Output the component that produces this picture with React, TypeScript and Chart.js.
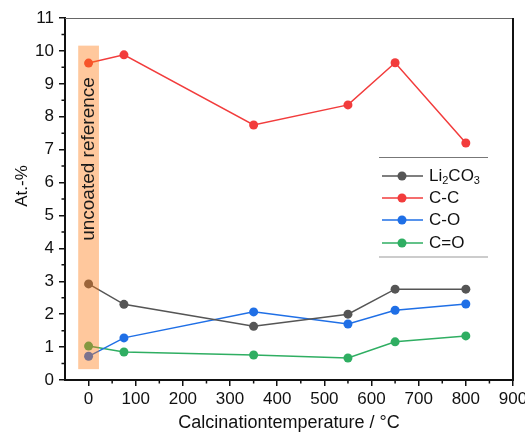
import React, { useEffect, useRef } from 'react';
import { Chart, registerables } from 'chart.js';

Chart.register(...registerables);

const temperatures = [0, 75, 350, 550, 650, 800];
const li2co3 = [2.92, 2.3, 1.63, 2.0, 2.76, 2.76];
const cc = [9.63, 9.88, 7.75, 8.36, 9.64, 7.2];
const co = [0.72, 1.28, 2.07, 1.7, 2.12, 2.31];
const cdo = [1.03, 0.85, 0.76, 0.67, 1.16, 1.34];
const seriesLabels = ['Li2CO3', 'C-C', 'C-O', 'C=O'];
const seriesColors = ['#555555', '#f23c3c', '#1f6fe6', '#2fae62'];
const xTicks = [0, 100, 200, 300, 400, 500, 600, 700, 800, 900];
const yTicks = [0, 1, 2, 3, 4, 5, 6, 7, 8, 9, 10, 11];
const bandX = [-22, 22];
const bandY = [0.33, 10.16];
const bandLabel = 'uncoated reference';
const xTitle = 'Calcinationtemperature / °C';
const yTitle = 'At.-%';

const FONT = "'Liberation Sans', Arial, sans-serif";

function drawSubLabel(ctx: CanvasRenderingContext2D, text: string, x: number, y: number) {
  let cx = x;
  for (const ch of text) {
    if (/[0-9]/.test(ch)) {
      ctx.font = `11px ${FONT}`;
      ctx.fillText(ch, cx, y + 5);
    } else {
      ctx.font = `17px ${FONT}`;
      ctx.fillText(ch, cx, y);
    }
    cx += ctx.measureText(ch).width;
  }
}

const decorPlugin = {
  id: 'decor',
  afterDatasetsDraw(chart: any) {
    const { ctx, scales, chartArea } = chart;
    const xs = scales.x;
    const ys = scales.y;
    ctx.save();
    // band
    const x1 = xs.getPixelForValue(bandX[0]);
    const x2 = xs.getPixelForValue(bandX[1]);
    const y1 = ys.getPixelForValue(bandY[1]);
    const y2 = ys.getPixelForValue(bandY[0]);
    ctx.fillStyle = 'rgba(255,121,17,0.41)';
    ctx.fillRect(x1, y1, x2 - x1, y2 - y1);
    // band label
    ctx.translate((x1 + x2) / 2, 159);
    ctx.rotate(-Math.PI / 2);
    ctx.fillStyle = '#1a1a1a';
    ctx.font = `19px ${FONT}`;
    ctx.textAlign = 'center';
    ctx.textBaseline = 'middle';
    ctx.fillText(bandLabel, 0, 0);
    ctx.restore();

    // frame
    ctx.save();
    ctx.strokeStyle = '#666';
    ctx.lineWidth = 1;
    ctx.beginPath();
    ctx.moveTo(chartArea.left, chartArea.top + 0.5);
    ctx.lineTo(chartArea.right, chartArea.top + 0.5);
    ctx.stroke();
    ctx.strokeStyle = '#111';
    ctx.lineWidth = 2;
    ctx.beginPath();
    ctx.moveTo(chartArea.right, chartArea.top);
    ctx.lineTo(chartArea.right, chartArea.bottom + 1);
    ctx.stroke();

    // minor ticks
    ctx.lineWidth = 1.5;
    ctx.beginPath();
    for (let i = 0; i < xTicks.length; i++) {
      const v = xTicks[i] - 50;
      if (v <= xs.min || v >= xs.max) continue;
      const px = xs.getPixelForValue(v);
      ctx.moveTo(px, chartArea.bottom);
      ctx.lineTo(px, chartArea.bottom + 3.5);
    }
    for (let i = 0; i < yTicks.length; i++) {
      const v = yTicks[i] + 0.5;
      if (v <= ys.min || v >= ys.max) continue;
      const py = ys.getPixelForValue(v);
      ctx.moveTo(chartArea.left, py);
      ctx.lineTo(chartArea.left - 3.5, py);
    }
    ctx.stroke();

    // axis titles
    ctx.fillStyle = '#111';
    ctx.textAlign = 'center';
    ctx.textBaseline = 'middle';
    ctx.font = `18px ${FONT}`;
    ctx.fillText(xTitle, (chartArea.left + chartArea.right) / 2, 423);
    ctx.save();
    ctx.translate(22, 186);
    ctx.rotate(-Math.PI / 2);
    ctx.font = `17px ${FONT}`;
    ctx.fillText(yTitle, 0, 0);
    ctx.restore();

    // legend
    const lx1 = 379, lx2 = 488;
    ctx.strokeStyle = '#777';
    ctx.lineWidth = 1;
    ctx.beginPath();
    ctx.moveTo(lx1, 157.5);
    ctx.lineTo(lx2, 157.5);
    ctx.stroke();
    ctx.strokeStyle = '#bbb';
    ctx.lineWidth = 1.5;
    ctx.beginPath();
    ctx.moveTo(lx1, 257);
    ctx.lineTo(lx2, 257);
    ctx.stroke();
    const rowY = [176, 198, 220, 243];
    seriesLabels.forEach((lab, i) => {
      const y = rowY[i];
      ctx.strokeStyle = seriesColors[i];
      ctx.lineWidth = 1.5;
      ctx.beginPath();
      ctx.moveTo(382, y);
      ctx.lineTo(423, y);
      ctx.stroke();
      ctx.fillStyle = seriesColors[i];
      ctx.beginPath();
      ctx.arc(402, y, 4.5, 0, Math.PI * 2);
      ctx.fill();
      ctx.fillStyle = '#111';
      ctx.textAlign = 'left';
      ctx.textBaseline = 'middle';
      drawSubLabel(ctx, lab, 429, y);
    });
    ctx.restore();
  },
};

export default function App() {
  const ref = useRef<HTMLCanvasElement | null>(null);
  useEffect(() => {
    document.body.style.margin = '0';
    if (!ref.current) return;
    const series = [li2co3, cc, co, cdo];
    const chart = new Chart(ref.current, {
      type: 'line',
      data: {
        datasets: series.map((vals, i) => ({
          label: seriesLabels[i],
          data: temperatures.map((t, j) => ({ x: t, y: vals[j] })),
          borderColor: seriesColors[i],
          backgroundColor: seriesColors[i],
          pointBackgroundColor: seriesColors[i],
          pointBorderColor: seriesColors[i],
          pointRadius: 4.5,
          pointBorderWidth: 0,
          borderWidth: 1.5,
          tension: 0,
          fill: false,
        })),
      },
      options: {
        responsive: false,
        animation: false,
        events: [],
        layout: { padding: { top: 18, right: 12, left: 0, bottom: 0 } },
        plugins: { legend: { display: false }, tooltip: { enabled: false }, title: { display: false } },
        scales: {
          x: {
            type: 'linear',
            min: -50,
            max: 900,
            afterBuildTicks: (s: any) => {
              s.ticks = xTicks.map((v) => ({ value: v }));
            },
            afterFit: (s: any) => {
              s.height = 55;
              s.paddingLeft = 0;
              s.paddingRight = 0;
            },
            ticks: { font: { size: 17, family: FONT }, color: '#111', padding: 3, maxRotation: 0, autoSkip: false },
            grid: { drawOnChartArea: false, drawTicks: true, tickLength: 6, color: '#111', lineWidth: 1.5 },
            border: { display: true, color: '#111', width: 2 },
          },
          y: {
            type: 'linear',
            min: 0,
            max: 11,
            afterBuildTicks: (s: any) => {
              s.ticks = yTicks.map((v) => ({ value: v }));
            },
            afterFit: (s: any) => {
              s.width = 65;
              s.paddingTop = 0;
              s.paddingBottom = 0;
            },
            ticks: { font: { size: 17, family: FONT }, color: '#111', padding: 5, autoSkip: false },
            grid: { drawOnChartArea: false, drawTicks: true, tickLength: 6, color: '#111', lineWidth: 1.5 },
            border: { display: true, color: '#111', width: 2 },
          },
        },
      },
      plugins: [decorPlugin],
    });
    return () => chart.destroy();
  }, []);
  return (
    <div style={{ width: 525, height: 435 }}>
      <canvas ref={ref} width={525} height={435} style={{ display: 'block' }} />
    </div>
  );
}
